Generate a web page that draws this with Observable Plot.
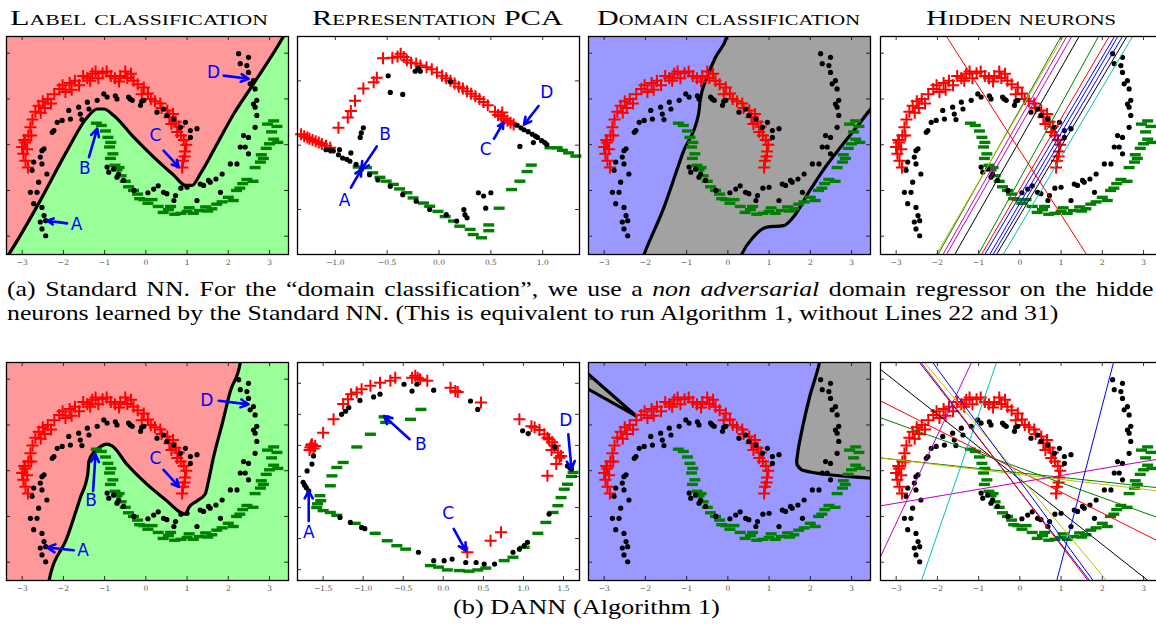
<!DOCTYPE html>
<html><head><meta charset="utf-8">
<script src="https://cdn.jsdelivr.net/npm/d3@7"></script>
<script src="https://cdn.jsdelivr.net/npm/@observablehq/plot@0.6"></script>
<style>
html,body{margin:0;padding:0;background:#fff}
body{width:1156px;height:625px;overflow:hidden;position:relative}
svg.panel{position:absolute}
</style></head><body>
<script>
// ---------------- DATA ----------------
const titles = ["Label classification", "Representation PCA", "Domain classification", "Hidden neurons"];
const captionA1 = ["(a) Standard NN. For the \u201cdomain classification\u201d, we use a ", "non adversarial", " domain regressor on the hidde"];
const captionA2 = "neurons learned by the Standard NN. (This is equivalent to run Algorithm 1, without Lines 22 and 31)";
const captionB = "(b) DANN (Algorithm 1)";

const xTicksInput = [-3, -2, -1, 0, 1, 2, 3];
const yTicksInput = [-2, -1, 0, 1, 2];
const xTicksPcaStd = [-1, -0.5, 0, 0.5, 1];
const yTicksPcaStd = [-1, 0, 1];
const xTicksPcaDann = [-1.5, -1, -0.5, 0, 0.5, 1, 1.5];
const yTicksPcaDann = [-3, -2, -1, 0, 1, 2, 3];

// source, label 1 (red +)
const redInput = [[-3.0,-0.05],[-2.93,0.05],[-2.97,-0.2],[-2.88,-0.1],[-2.92,-0.35],[-2.86,-0.5],[-2.95,0.1],[-2.85,0.2],
[-2.8,0.38],[-2.75,0.55],[-2.68,0.72],[-2.6,0.85],[-2.5,0.95],[-2.45,0.8],[-2.38,1.0],[-2.22,1.1],
[-2.1,1.22],[-2.02,1.3],[-1.95,1.15],[-1.85,1.35],[-1.72,1.4],[-1.62,1.3],[-1.52,1.5],[-1.42,1.45],
[-1.3,1.55],[-1.22,1.6],[-1.15,1.45],[-1.05,1.56],[-0.95,1.6],[-0.85,1.5],[-0.75,1.45],[-0.62,1.5],
[-0.5,1.6],[-0.45,1.46],[-0.36,1.55],[-0.3,1.4],[-0.2,1.32],[-0.05,1.25],[0.05,1.12],[0.12,1.0],
[0.22,0.95],[0.38,0.8],[0.52,0.75],[0.57,0.6],[0.66,0.67],[0.72,0.5],[0.8,0.4],[0.76,0.28],
[0.92,0.1],[0.98,0.0],[0.95,-0.15],[0.9,-0.35],[0.88,-0.5],[0.94,-0.26],
[-2.78,0.2],[-2.55,0.7],[-2.3,0.9],[-1.8,1.2],[-1.35,1.4],[-0.65,1.38],[-0.1,1.1],[0.35,0.9],[0.62,0.45],[0.85,0.2]];
// source, label 0 (green -)
const greenInput = [[-1.2,0.47],[-1.08,0.42],[-0.98,0.3],[-0.92,0.16],[-0.85,0.05],[-0.88,-0.05],[-0.8,-0.2],[-0.86,-0.3],
[-0.75,-0.45],[-0.7,-0.55],[-0.6,-0.68],[-0.5,-0.8],[-0.42,-0.92],[-0.3,-1.0],[-0.2,-1.08],[-0.05,-1.2],
[0.05,-1.28],[0.15,-1.2],[0.3,-1.35],[0.42,-1.48],[0.55,-1.42],[0.7,-1.52],[0.85,-1.5],[1.0,-1.46],
[1.15,-1.5],[1.3,-1.44],[1.45,-1.36],[1.6,-1.4],[1.72,-1.3],[1.85,-1.25],[2.0,-1.15],[2.12,-1.22],
[2.2,-1.0],[2.35,-0.85],[2.45,-0.76],[2.6,-0.8],[2.65,-0.5],[2.78,-0.38],[2.8,-0.22],[2.92,-0.08],
[3.0,0.02],[3.1,0.12],[3.2,0.05],[3.05,0.28],[3.18,0.4],[3.1,0.52],[2.95,0.45],[1.05,-1.38],
[-0.65,-0.5],[-0.15,-1.18],[0.6,-1.35],[1.5,-1.45],[2.28,-0.95],[2.85,-0.3]];
// target (black dots)
const blackInput = [[-2.43,-1.99],[-2.52,-1.84],[-2.56,-1.69],[-2.43,-1.66],[-2.47,-1.55],[-2.52,-1.37],[-2.72,-1.29],[-2.64,-1.04],
[-2.8,-1.04],[-2.6,-0.82],[-2.76,-0.56],[-2.52,-0.42],[-2.72,-0.38],[-2.4,-0.64],[-2.56,-0.27],[-2.47,-0.09],
[-2.52,-0.13],[-2.27,0.27],[-2.23,0.31],[-2.03,0.53],[-2.15,0.49],[-1.83,0.56],[-1.87,0.75],[-1.59,0.67],
[-1.63,0.82],[-1.42,0.93],[-1.38,0.78],[-1.18,0.97],[-1.02,1.11],[-0.94,1.04],[-0.74,1.07],[-0.7,1.0],
[-0.42,1.04],[-0.33,0.97],[-0.38,1.0],[-0.13,0.86],[-0.05,0.97],[0.27,0.71],[0.43,0.78],[0.51,0.64],
[0.68,0.56],[0.84,0.38],[0.96,0.49],[1.08,0.16],[1.24,0.35],[1.08,0.31],[-1.55,0.55],[-0.1,0.95],
[-0.94,-0.49],[-0.9,-0.6],[-0.78,-0.53],[-0.7,-0.71],[-0.66,-0.64],[-0.54,-0.78],[-0.29,-1.0],[0.19,-0.97],
[0.43,-1.04],[0.51,-1.07],[0.68,-1.22],[0.72,-1.11],[1.0,-0.93],[1.24,-1.22],[1.32,-0.86],[1.52,-0.78],
[1.4,-0.89],[1.56,-0.82],[1.81,-1.04],[1.85,-0.64],[2.05,-0.42],[2.21,-0.42],[2.29,-0.05],[2.41,-0.05],
[2.49,-0.2],[2.37,0.2],[2.49,0.16],[2.65,0.38],[2.69,0.64],[2.65,0.82],[2.61,0.89],[2.69,0.97],
[2.65,1.22],[2.61,1.4],[2.53,1.33],[2.49,1.58],[2.45,1.73],[2.49,1.91],[2.25,1.99],[2.29,1.77],
[0.3,-0.9],[0.05,-1.05],[1.7,-0.75],[0.85,-0.95]];

// PCA of hidden representation, standard NN
const pcaStdRed = [[-1.33,0.17],[-1.30,0.14],[-1.27,0.12],[-1.25,0.10],[-1.22,0.08],[-1.19,0.06],[-1.16,0.04],[-1.13,0.02],[-1.09,-0.01],[-1.05,-0.04],
[-0.97,0.27],[-0.88,0.43],[-0.85,0.53],[-0.81,0.69],[-0.73,0.88],[-0.63,0.98],[-0.6,1.05],[-0.54,1.35],
[-0.45,1.36],[-0.4,1.38],[-0.37,1.42],[-0.34,1.37],[-0.31,1.32],[-0.27,1.28],[-0.22,1.27],[-0.18,1.24],
[-0.12,1.21],[-0.07,1.18],[-0.02,1.13],[0.03,1.08],[0.07,1.04],[0.11,1.0],[0.15,0.96],[0.19,0.91],
[0.23,0.88],[0.27,0.84],[0.31,0.8],[0.35,0.76],[0.39,0.72],[0.43,0.67],[0.47,0.62],[0.54,0.52],
[0.57,0.47],[0.6,0.45],[0.63,0.41],[0.66,0.38],[0.69,0.35],[0.72,0.32],[0.61,0.51]];
const pcaStdGreen = [[-0.78,-0.34],[-0.7,-0.35],[-0.64,-0.43],[-0.57,-0.5],[-0.51,-0.56],[-0.44,-0.61],[-0.38,-0.68],[-0.31,-0.74],
[-0.25,-0.82],[-0.15,-0.9],[-0.09,-0.95],[-0.01,-1.03],[0.06,-1.11],[0.14,-1.18],[0.2,-1.26],[0.3,-1.31],
[0.33,-1.39],[0.41,-1.44],[0.48,-1.33],[0.48,-1.24],[0.58,-0.98],[0.7,-0.69],[0.78,-0.56],[0.85,-0.41],
[0.89,-0.31],[1.07,-0.04],[1.14,-0.04],[1.19,-0.08],[1.25,-0.12],[1.32,-0.17]];
const pcaStdBlack = [[-1.09,-0.07],[-1.05,-0.08],[-1.02,-0.09],[-0.96,-0.07],[-0.97,-0.15],[-0.93,-0.2],[-0.89,-0.22],[-0.86,-0.25],
[-0.85,-0.12],[-0.8,-0.3],[-0.75,-0.38],[-0.67,-0.46],[-0.59,-0.54],[-0.47,-0.64],[-0.35,-0.77],[-0.22,-0.87],
[-0.09,-1.0],[0.07,-1.08],[0.17,-1.18],[0.24,-1.0],[0.25,-1.08],[0.27,-1.13],[0.38,-0.74],[0.43,-0.79],
[0.5,-0.74],[0.45,-0.98],[-0.49,1.08],[-0.47,0.82],[-0.35,0.79],[-0.76,0.12],[-0.75,0.19],[-0.73,0.27],
[-0.23,1.15],[-0.18,1.15],[-0.2,1.19],[0.11,0.99],[0.75,0.31],[0.79,0.27],[0.82,0.24],[0.86,0.21],
[0.9,0.17],[0.93,0.14],[0.95,0.12],[0.99,0.07],[1.02,0.04],[1.04,0.01],[0.78,-0.02],[0.91,0.04]];

// PCA of hidden representation, DANN
const pcaDannRed = [[-1.66,0.93],[-1.64,1.04],[-1.67,0.85],[-1.6,0.98],[-1.62,0.9],[-1.65,1.0],[-1.5,1.41],[-1.37,1.84],
[-1.25,2.33],[-1.19,2.49],[-1.15,2.65],[-1.08,2.7],[-1.02,2.81],[-0.91,2.92],[-0.79,3.02],[-0.66,3.08],
[-0.6,3.18],[-0.39,3.18],[-0.35,3.24],[-0.32,3.18],[-0.29,3.13],[-0.2,3.08],[0.09,2.86],[0.15,2.75],
[0.18,2.72],[0.47,2.38],[0.95,1.84],[1.1,1.62],[1.14,1.58],[1.2,1.5],[1.26,1.36],[1.3,1.25],
[1.32,1.2],[1.36,1.1],[1.39,0.99],[1.43,0.77],[1.47,0.66],[1.41,0.4],[1.3,0.02],[0.3,-2.44],
[0.59,-2.07],[0.72,-1.8],[1.35,0.85],[1.45,0.6]];
const pcaDannGreen = [[-1.54,-0.62],[-1.53,-0.78],[-1.57,-0.88],[-1.58,-1.0],[-1.5,-1.1],[-1.41,-1.16],[-1.33,-1.25],[-1.1,-1.51],
[-0.85,-1.83],[-0.7,-2.07],[-0.58,-2.23],[-0.47,-2.34],[-0.16,-2.87],[-0.06,-2.92],[0.05,-3.01],[0.2,-3.03],
[0.32,-3.05],[0.43,-3.01],[0.53,-2.95],[0.76,-2.71],[0.87,-2.6],[1.01,-2.28],[1.18,-1.83],[1.28,-1.48],
[1.37,-1.16],[1.43,-0.94],[1.47,-0.68],[1.51,-0.41],[1.55,-0.25],[1.62,0.13],[1.6,0.0],[-1.41,-0.3],
[-1.39,0.02],[-1.33,0.29],[-1.25,0.45],[-1.08,0.95],[-0.91,1.36],[-0.74,1.92],[-0.72,1.74],[-0.41,1.84],[-0.28,2.16]];
const pcaDannBlack = [[-1.75,-0.19],[-1.73,-0.28],[-1.71,-0.36],[-1.68,-0.46],[-1.7,0.18],[-1.64,0.4],[-1.62,0.66],[-1.27,2.0],
[-1.22,2.1],[-1.18,2.22],[-1.04,2.45],[-0.87,2.56],[-0.79,2.65],[-0.49,2.97],[-0.39,2.75],[-0.33,2.97],
[-0.12,2.78],[0.34,2.43],[0.43,2.16],[0.99,1.47],[1.06,1.38],[1.39,0.95],[1.55,0.34],[1.58,0.28],
[1.6,0.24],[-1.29,-1.32],[-1.16,-1.48],[-1.02,-1.64],[-0.98,-1.68],[-0.31,-2.44],[-0.12,-2.71],[0.01,-2.71],
[0.11,-2.66],[0.28,-2.77],[0.41,-2.77],[0.51,-2.82],[0.64,-2.82],[0.87,-2.44],[0.95,-2.34],[1.01,-2.23],
[1.05,-2.12],[1.32,-1.21]];

// decision boundaries (input space)
const labelBoundaryStd = [[-3.4,-2.5],[-3.32,-2.39],[-2.56,-1.22],[-1.91,-0.13],[-1.42,0.6],[-1.18,0.78],[-1.02,0.78],[-0.78,0.64],
[-0.29,0.16],[0.19,-0.27],[0.68,-0.67],[0.96,-0.89],[1.12,-0.89],[1.32,-0.64],[1.73,0.02],[2.13,0.67],[2.61,1.33],[3.34,2.37],[3.42,2.5]];
const labelBoundaryDann = [[-2.38,-2.6],[-2.35,-2.41],[-1.91,-1.46],[-1.59,-0.59],[-1.41,-0.08],[-1.38,0.21],[-1.3,0.36],[-1.18,0.47],
[-0.94,0.58],[-0.82,0.54],[-0.46,0.14],[0.03,-0.3],[0.51,-0.66],[0.84,-0.91],[0.96,-0.95],[1.04,-0.81],
[1.24,-0.66],[1.44,-0.51],[1.52,-0.22],[1.64,0.29],[1.85,1.02],[2.05,1.74],[2.29,2.36],[2.33,2.6]];
const domBoundaryStd1 = [[-2.06,-2.46],[-2.03,-2.39],[-1.55,-1.37],[-1.07,-0.13],[-0.71,0.67],[-0.67,0.97],[-0.5,1.48],[-0.3,1.91],[-0.02,2.37],[0.02,2.5]];
const domBoundaryStd2 = [[0.29,-2.5],[0.34,-2.39],[0.62,-2.02],[0.95,-1.8],[1.35,-1.77],[1.59,-1.58],[1.99,-1.0],[2.31,-0.56],[2.8,0.02],[3.12,0.38],[3.44,0.75],[3.6,0.92]];
const domWedgeDann = [[-3.6,1.89,2.28],[-2.23,1.2,1.2]];
const domBoundaryDann = [[3.7,-0.18],[3.43,-0.16],[2.7,-0.11],[2.06,-0.04],[1.77,0.03],[1.67,0.18],[1.69,0.36],[1.81,0.94],[1.98,1.6],[2.22,2.36],[2.25,2.5]];

// hidden neurons: x1, y1, x2, y2, colour
const neuronsStd = [[1.0,2.365,-1.986,-2.4,"#008000"],[1.055,2.365,-2.027,-2.4,"#bfbf00"],[1.136,2.365,-1.865,-2.4,"#bf00bf"],
[1.258,2.365,-1.78,-2.4,"#bf00bf"],[1.436,2.365,-1.58,-2.4,"#000000"],[1.906,2.365,-1.01,-2.4,"#008000"],
[2.166,2.365,-0.93,-2.4,"#ff0000"],[2.296,2.365,-0.85,-2.4,"#0000ff"],[2.377,2.365,-0.73,-2.4,"#0000ff"],
[2.49,2.365,-0.65,-2.4,"#0000ff"],[2.596,2.365,-0.567,-2.4,"#000000"],[2.734,2.365,-0.405,-2.4,"#00bfbf"],
[-1.78,2.365,1.62,-2.4,"#ff0000"]];
const neuronsDann = [[-3.39,2.22,3.12,-2.41,"#000000"],[-3.39,1.53,3.33,-1.53,"#ff0000"],[-3.39,1.16,3.33,-1.02,"#008000"],
[-3.39,0.28,3.33,-0.37,"#008000"],[-3.39,0.28,3.33,-0.44,"#bfbf00"],[-3.39,-0.77,3.33,0.25,"#bf00bf"],
[-3.39,-1.9,-1.175,2.36,"#bf00bf"],[-2.39,-2.41,-0.567,2.36,"#00bfbf"],[0.893,-2.41,2.27,2.36,"#0000ff"],
[-2.43,2.36,1.70,-2.41,"#0000ff"],[-2.39,2.36,1.66,-2.41,"#ff0000"],[-2.31,2.36,2.11,-2.41,"#bfbf00"],
[-2.11,2.36,1.785,-2.41,"#0000ff"]];

// annotations: label, label x, label y, arrow x1, y1, x2, y2
const annotStdLabel = [["A",-1.68,-1.74,-1.91,-1.72,-2.39,-1.66],["B",-1.48,-0.53,-1.38,-0.27,-1.18,0.35],["C",0.23,0.2,0.43,-0.13,0.8,-0.49],["D",1.64,1.58,1.89,1.51,2.49,1.44]];
const annotDannLabel = [["A",-1.52,-1.74,-1.75,-1.74,-2.39,-1.68],["B",-1.33,-0.66,-1.28,-0.44,-1.22,0.36],["C",0.23,0.27,0.43,0.02,0.8,-0.35],["D",1.48,1.53,1.77,1.53,2.49,1.45]];
const annotStdPca = [["A",-0.91,-0.86,-0.85,-0.66,-0.75,-0.38],["B",-0.52,0.17,-0.6,-0.02,-0.75,-0.38],["C",0.45,-0.07,0.53,0.1,0.62,0.35],["D",1.04,0.82,0.96,0.61,0.82,0.32]];
const annotDannPca = [["A",-1.68,-1.8,-1.68,-1.43,-1.68,-0.46],["B",-0.28,1.02,-0.42,1.2,-0.74,1.95],["C",0.06,-1.19,0.13,-1.69,0.28,-2.39],["D",1.53,1.79,1.56,1.36,1.6,0.24]];

// ---------------- DRAWING ----------------
const W = 282, H = 218;
const inX = [-3.38, 3.46], inY = [-2.4, 2.365];
const pcaStdX = [-1.365, 1.355], pcaStdY = [-1.70, 1.69];
const pcaDannX = [-1.82, 1.70], pcaDannY = [-3.35, 3.67];
const colLeft = [6, 297, 588, 880];
const rowTop = [36, 361.7];
const RED = "#ff9999", GREEN = "#99ff99", BLUE = "#9999ff", GRAY = "#a2a2a2";

const plusSym = {draw(c, s) {const h = Math.sqrt(s / Math.PI); c.moveTo(-h, 0); c.lineTo(h, 0); c.moveTo(0, -h); c.lineTo(0, h);}};
const minusSym = {draw(c, s) {const h = Math.sqrt(s / Math.PI); c.moveTo(-h, 0); c.lineTo(h, 0);}};
const fx = d => d[0], fy = d => d[1];

function pts(red, green, black) {
  return [
    Plot.dot(red, {x: fx, y: fy, symbol: plusSym, r: 6, stroke: "#ff0000", fill: "none", strokeWidth: 2}),
    Plot.dot(green, {x: fx, y: fy, symbol: minusSym, r: 5.5, stroke: "#008000", fill: "none", strokeWidth: 3.4}),
    Plot.dot(black, {x: fx, y: fy, r: 2.6, fill: "black", stroke: "none"})
  ];
}
function annot(list) {
  return [
    Plot.arrow(list, {x1: d => d[3], y1: d => d[4], x2: d => d[5], y2: d => d[6], stroke: "#0000ff", strokeWidth: 2.6, headLength: 5, headAngle: 55}),
    Plot.text(list, {x: d => d[1], y: d => d[2], text: d => d[0], fill: "#0000ff", fontSize: 17, fontFamily: "DejaVu Sans"})
  ];
}
function panel(col, row, xd, yd, xt, yt, fmt, marks, bg) {
  const m = 2, mb = 16;
  const svg = Plot.plot({
    width: W + 2 * m, height: H + m + mb,
    marginLeft: m, marginRight: m, marginTop: m, marginBottom: mb,
    x: {domain: xd, axis: null}, y: {domain: yd, axis: null},
    style: {background: "none", overflow: "visible"},
    marks: [
      bg ? Plot.frame({fill: bg, stroke: "none"}) : null,
      ...marks,
      Plot.ruleX(xt, {insetTop: H - 4, stroke: "black", strokeWidth: 0.8}),
      Plot.ruleX(xt, {insetBottom: H - 4, stroke: "black", strokeWidth: 0.8}),
      Plot.ruleY(yt, {insetRight: W - 4, stroke: "black", strokeWidth: 0.8}),
      Plot.ruleY(yt, {insetLeft: W - 4, stroke: "black", strokeWidth: 0.8}),
      Plot.axisX({ticks: xt, tickFormat: fmt, tickSize: 0, tickPadding: 5, fontSize: 7.5, fill: "#555", fontFamily: "DejaVu Serif"}),
      Plot.frame({stroke: "black", strokeWidth: 1.3})
    ]
  });
  svg.classList.add("panel");
  svg.style.left = (colLeft[col] - m) + "px";
  svg.style.top = (rowTop[row] - m) + "px";
  document.body.appendChild(svg);
}
const fmtInt = d3.format("d"), fmt1 = d3.format(".1f");
const lineOpts = {x: fx, y: fy, stroke: "black", strokeWidth: 3.2, clip: true};
const ext = (b, xd, yd) => [[xd[0] - 1, yd[0] - 5], ...b, [xd[1] + 1, yd[1] + 5]];

// Row (a) Standard NN
panel(0, 0, inX, inY, xTicksInput, yTicksInput, fmtInt, [
  Plot.areaY(ext(labelBoundaryStd, inX, inY), {x: fx, y1: fy, y2: inY[1] + 5, fill: RED, curve: "monotone-x", clip: true}),
  Plot.line(labelBoundaryStd, {...lineOpts, curve: "monotone-x"}),
  ...pts(redInput, greenInput, blackInput),
  ...annot(annotStdLabel)
], GREEN);
panel(1, 0, pcaStdX, pcaStdY, xTicksPcaStd, yTicksPcaStd, fmt1, [
  ...pts(pcaStdRed, pcaStdGreen, pcaStdBlack),
  ...annot(annotStdPca)
], null);
panel(2, 0, inX, inY, xTicksInput, yTicksInput, fmtInt, [
  Plot.areaY([[inX[0] - 1, inY[0] - 5], ...domBoundaryStd1], {x: fx, y1: fy, y2: inY[1] + 5, fill: BLUE, curve: "monotone-x", clip: true}),
  Plot.areaY([...domBoundaryStd2, [inX[1] + 1, inY[1] + 5]], {x: fx, y1: inY[0] - 5, y2: fy, fill: BLUE, curve: "monotone-x", clip: true}),
  Plot.line(domBoundaryStd1, {...lineOpts, curve: "monotone-x"}),
  Plot.line(domBoundaryStd2, {...lineOpts, curve: "monotone-x"}),
  ...pts(redInput, greenInput, blackInput)
], GRAY);
panel(3, 0, inX, inY, xTicksInput, yTicksInput, fmtInt, [
  ...pts(redInput, greenInput, blackInput),
  Plot.link(neuronsStd, {x1: d => d[0], y1: d => d[1], x2: d => d[2], y2: d => d[3], stroke: d => d[4], strokeWidth: 1, clip: true})
], null);

// Row (b) DANN
panel(0, 1, inX, inY, xTicksInput, yTicksInput, fmtInt, [
  Plot.areaY(ext(labelBoundaryDann, inX, inY), {x: fx, y1: fy, y2: inY[1] + 5, fill: RED, curve: "monotone-x", clip: true}),
  Plot.line(labelBoundaryDann, {...lineOpts, curve: "monotone-x"}),
  ...pts(redInput, greenInput, blackInput),
  ...annot(annotDannLabel)
], GREEN);
panel(1, 1, pcaDannX, pcaDannY, xTicksPcaDann, yTicksPcaDann, fmt1, [
  ...pts(pcaDannRed, pcaDannGreen, pcaDannBlack),
  ...annot(annotDannPca)
], null);
panel(2, 1, inX, inY, xTicksInput, yTicksInput, fmtInt, [
  Plot.areaY(domWedgeDann, {x: d => d[0], y1: d => d[1], y2: d => d[2], fill: GRAY, clip: true}),
  Plot.line(domWedgeDann, {x: d => d[0], y: d => d[1], stroke: "black", strokeWidth: 3.2, clip: true}),
  Plot.line(domWedgeDann, {x: d => d[0], y: d => d[2], stroke: "black", strokeWidth: 3.2, clip: true}),
  Plot.areaX(domBoundaryDann, {y: fy, x1: fx, x2: inX[1] + 5, fill: GRAY, curve: "monotone-y", clip: true}),
  Plot.line(domBoundaryDann, {...lineOpts, curve: "monotone-y"}),
  ...pts(redInput, greenInput, blackInput)
], BLUE);
panel(3, 1, inX, inY, xTicksInput, yTicksInput, fmtInt, [
  ...pts(redInput, greenInput, blackInput),
  Plot.link(neuronsDann, {x1: d => d[0], y1: d => d[1], x2: d => d[2], y2: d => d[3], stroke: d => d[4], strokeWidth: 1, clip: true})
], null);

// ---------------- TEXT ----------------
const SERIF = "'Liberation Serif', 'DejaVu Serif', serif";
const ov = d3.select("body").append("svg").attr("width", 1156).attr("height", 625)
  .style("position", "absolute").style("left", "0px").style("top", "0px").style("pointer-events", "none");
const titleSpan = [[10, 268], [312, 563], [597, 860], [926, 1116]];
titles.forEach((t, i) => {
  ov.append("text").attr("x", titleSpan[i][0]).attr("y", 25).attr("font-size", 22)
    .attr("font-family", SERIF).style("font-variant", "small-caps")
    .attr("textLength", titleSpan[i][1] - titleSpan[i][0])
    .attr("lengthAdjust", "spacingAndGlyphs").text(t);
});
const l2 = ov.append("text").attr("font-size", 22).attr("font-family", SERIF).text(captionA2);
const sx = 1052 / l2.node().getComputedTextLength();
l2.attr("transform", `translate(7,320) scale(${sx},1)`);
const l1 = ov.append("text").attr("font-size", 22).attr("font-family", SERIF);
captionA1.forEach((t, i) => l1.append("tspan").attr("font-style", i === 1 ? "italic" : "normal").text(t));
const natural1 = l1.node().getComputedTextLength();
const nSpaces = captionA1.join("").split(" ").length - 1;
l1.style("word-spacing", (((1154 - 7) / sx - natural1) / nSpaces) + "px")
  .attr("transform", `translate(7,296) scale(${sx},1)`);
const lb = ov.append("text").attr("font-size", 22).attr("font-family", SERIF).text(captionB);
const sxb = 267 / lb.node().getComputedTextLength();
lb.attr("transform", `translate(453,614) scale(${sxb},1)`);
</script>
</body></html>
